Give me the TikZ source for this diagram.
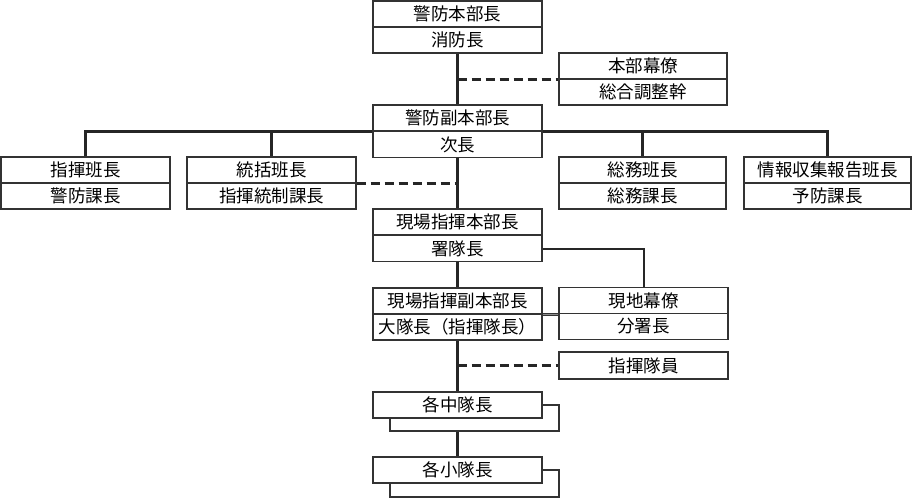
\documentclass[tikz,border=0pt]{standalone}
\usepackage{fontspec}
\newfontfamily\jp{Noto Sans CJK JP}
\begin{document}
\begin{tikzpicture}[x=1pt,y=-1pt,
  cell/.style={draw=black!80, line width=1.2pt, fill=white, minimum height=26pt,
    minimum width=169pt, inner sep=0pt, font=\jp\fontsize{17.5}{19}\selectfont},
  conn/.style={line width=2.4pt, black!85},
  thinconn/.style={line width=2pt, black!85},
  dconn/.style={conn, dash pattern=on 9pt off 5pt}]
\useasboundingbox (0,0) rectangle (915,498);
% top
\node[cell] (A1) at (457.5,14) {警防本部長};
\node[cell] (A2) at (457.5,40) {消防長};
\node[cell, minimum width=168pt] (B1) at (643,66) {本部幕僚};
\node[cell, minimum width=168pt] (B2) at (643,92) {総合調整幹};
\node[cell] (C1) at (457.5,118) {警防副本部長};
\node[cell] (C2) at (457.5,144.5) {次長};
% second level
\node[cell] (D1) at (85.5,170) {指揮班長};
\node[cell] (D2) at (85.5,196) {警防課長};
\node[cell] (E1) at (271.5,170) {統括班長};
\node[cell] (E2) at (271.5,196) {指揮統制課長};
\node[cell, minimum width=167pt] (F1) at (642.5,170) {総務班長};
\node[cell, minimum width=167pt] (F2) at (642.5,196) {総務課長};
\node[cell, minimum width=167pt] (G1) at (827.5,170) {情報収集報告班長};
\node[cell, minimum width=167pt] (G2) at (827.5,196) {予防課長};
% field
\node[cell] (H1) at (457.5,222) {現場指揮本部長};
\node[cell] (H2) at (457.5,248.5) {署隊長};
\node[cell] (I1) at (457.5,301) {現場指揮副本部長};
\node[cell] (I2) at (457.5,327) {大隊長（指揮隊長）};
\node[cell] (J1) at (643.5,300.5) {現地幕僚};
\node[cell] (J2) at (643.5,326.5) {分署長};
\node[cell, minimum height=27pt] (K) at (643.5,365.5) {指揮隊員};
% stacked boxes
\node[cell] (Lsh) at (474.5,418) {};
\node[cell] (L) at (457.5,405) {各中隊長};
\node[cell, minimum height=27pt] (Msh) at (474.5,483.5) {};
\node[cell] (M) at (457.5,470) {各小隊長};
% connectors
\draw[conn] (A2.south) -- (C1.north);
\draw[dconn] (A2.south |- B1.south west) -- (B1.south west);
\draw[conn] (D1.north) |- (C1.south west);
\draw[conn] (C1.south east) -| (G1.north);
\draw[conn] (E1.north) -- (E1.north |- C1.south);
\draw[conn] (F1.north) -- (F1.north |- C1.south);
\draw[conn] (C2.south) -- (H1.north);
\draw[dconn] (E1.south east) -- (E1.south east -| C2.south);
\draw[thinconn] (H2.east) -| (J1.north);
\draw[conn] (H2.south) -- (I1.north);
\draw[black!80, line width=1pt, double=black!45, double distance=1.6pt] (I1.south east) -- (I1.south east -| J1.west);
\draw[conn] (I2.south) -- (L.north);
\draw[dconn] (I2.south |- K.west) -- (K.west);
\draw[conn] (L.south |- Lsh.south) -- (M.north);
\end{tikzpicture}
\end{document}
